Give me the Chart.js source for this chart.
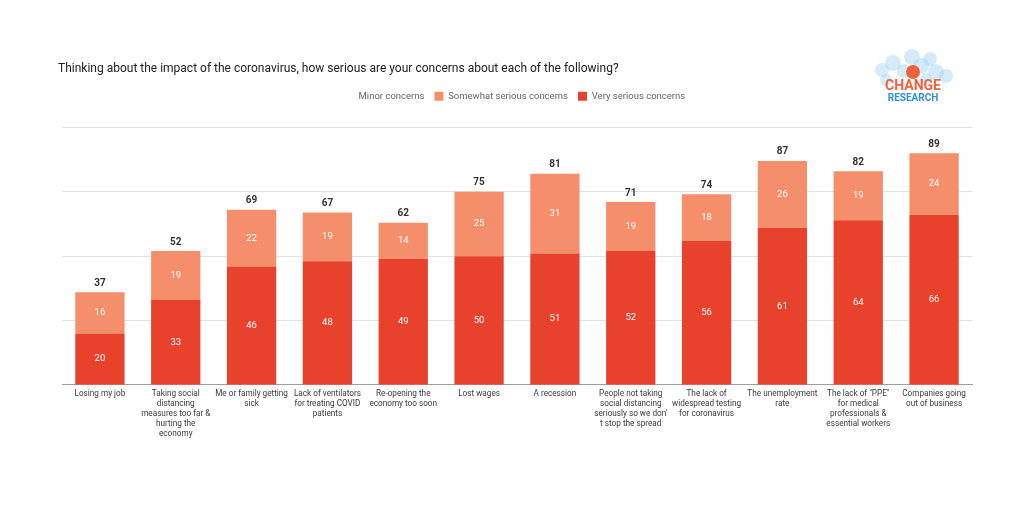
<!DOCTYPE html>
<html>
<head>
<meta charset="utf-8">
<script src="https://cdn.jsdelivr.net/npm/chart.js@4.4.1/dist/chart.umd.min.js"></script>
<style>
  html, body { margin: 0; padding: 0; background: #fff; }
  #wrap { width: 1021px; height: 509px; position: relative; }
</style>
</head>
<body>
<div id="wrap"><canvas id="concernsChart"></canvas></div>
<script>
// data
const categories = [
    ['Losing my job'],
    ['Taking social', 'distancing', 'measures too far &', 'hurting the', 'economy'],
    ['Me or family getting', 'sick'],
    ['Lack of ventilators', 'for treating COVID', 'patients'],
    ['Re-opening the', 'economy too soon'],
    ['Lost wages'],
    ['A recession'],
    ['People not taking', 'social distancing', "seriously so we don'", 't stop the spread'],
    ['The lack of', 'widespread testing', 'for coronavirus'],
    ['The unemployment', 'rate'],
    ['The lack of "PPE"', 'for medical', 'professionals &', 'essential workers'],
    ['Companies going', 'out of business']
];
const verySerious = [20, 33, 46, 48, 49, 50, 51, 52, 56, 61, 64, 66];
const somewhatSerious = [16, 19, 22, 19, 14, 25, 31, 19, 18, 26, 19, 24];
const totals = [37, 52, 69, 67, 62, 75, 81, 71, 74, 87, 82, 89];
const yTicks = [0, 25, 50, 75, 100];

const RED = '#e8412c';
const SALMON = '#f48e6b';

// labels inside segments + totals on top
const labelPlugin = {
    id: 'segLabels',
    afterDatasetsDraw(chart) {
        const ctx = chart.ctx;
        ctx.save();
        ctx.textAlign = 'center';
        ctx.textBaseline = 'middle';
        [0, 1].forEach(di => {
            const meta = chart.getDatasetMeta(di);
            meta.data.forEach((bar, i) => {
                const v = chart.data.datasets[di].data[i];
                ctx.fillStyle = '#ffffff';
                ctx.font = '9.5px Roboto';
                ctx.fillText(v, bar.x, (bar.y + bar.base) / 2);
            });
        });
        const top = chart.getDatasetMeta(1);
        top.data.forEach((bar, i) => {
            ctx.fillStyle = '#333333';
            ctx.font = 'bold 10px Roboto';
            ctx.fillText(totals[i], bar.x, bar.y - 9);
        });
        ctx.restore();
    }
};

// fixed legend height so the plot starts where the reference does
const legendGap = {
    id: 'legendGap',
    beforeInit(chart) {
        const origFit = chart.legend.fit;
        chart.legend.fit = function () {
            origFit.bind(chart.legend)();
            this.height = 46;
        };
    }
};

// Change Research logo
const logoPlugin = {
    id: 'logo',
    afterDraw(chart) {
        const ctx = chart.ctx;
        ctx.save();
        const blobs = [[882, 70, 7], [893, 63, 8], [904, 71, 7], [912, 57, 8], [921, 66, 8], [930, 59, 7], [936, 72, 8], [946, 76, 7], [886, 80, 6], [926, 79, 6]];
        ctx.fillStyle = 'rgba(150, 205, 240, 0.4)';
        blobs.forEach(b => { ctx.beginPath(); ctx.arc(b[0], b[1], b[2], 0, Math.PI * 2); ctx.fill(); });
        ctx.fillStyle = '#f0623e';
        ctx.beginPath(); ctx.arc(913, 72, 7, 0, Math.PI * 2); ctx.fill();
        ctx.textAlign = 'center';
        ctx.textBaseline = 'middle';
        ctx.font = 'bold 14px Roboto';
        ctx.fillText('CHANGE', 913, 86);
        ctx.fillStyle = '#2f8fd8';
        ctx.font = 'bold 10px Roboto';
        ctx.fillText('RESEARCH', 913, 98);
        ctx.restore();
    }
};

new Chart(document.getElementById('concernsChart').getContext('2d'), {
    type: 'bar',
    data: {
        labels: categories,
        datasets: [
            { label: 'Very serious concerns', data: verySerious, backgroundColor: RED, barPercentage: 0.65, categoryPercentage: 1 },
            { label: 'Somewhat serious concerns', data: somewhatSerious, backgroundColor: SALMON, barPercentage: 0.65, categoryPercentage: 1 },
            { label: 'Minor concerns', data: [], backgroundColor: 'rgba(255,255,255,0)', borderWidth: 0 }
        ]
    },
    options: {
        responsive: true,
        maintainAspectRatio: false,
        animation: false,
        layout: { padding: { top: 62, left: 58, right: 49, bottom: 66 } },
        plugins: {
            title: {
                display: true,
                text: 'Thinking about the impact of the coronavirus, how serious are your concerns about each of the following?',
                align: 'start',
                color: '#212121',
                font: { family: 'Roboto', size: 12, weight: 'normal' },
                padding: { top: 0, bottom: 5 }
            },
            legend: {
                reverse: true,
                labels: {
                    boxWidth: 9,
                    boxHeight: 9,
                    padding: 10,
                    color: '#666666',
                    font: { family: 'Roboto', size: 9.5 }
                }
            },
            tooltip: { enabled: false }
        },
        scales: {
            x: {
                stacked: true,
                grid: { display: false, drawTicks: false },
                border: { color: '#9e9e9e' },
                ticks: {
                    color: '#3a3a3a',
                    font: { family: 'Roboto', size: 8.2, lineHeight: 1.22 },
                    maxRotation: 0,
                    autoSkip: false,
                    padding: 4
                }
            },
            y: {
                stacked: true,
                min: 0,
                max: 100,
                afterBuildTicks(axis) { axis.ticks = yTicks.map(v => ({ value: v })); },
                afterFit(axis) { axis.width = 4; },
                ticks: { display: false },
                grid: { color: '#e2e2e2', drawTicks: false },
                border: { display: false }
            }
        }
    },
    plugins: [labelPlugin, legendGap, logoPlugin]
});
</script>
</body>
</html>
